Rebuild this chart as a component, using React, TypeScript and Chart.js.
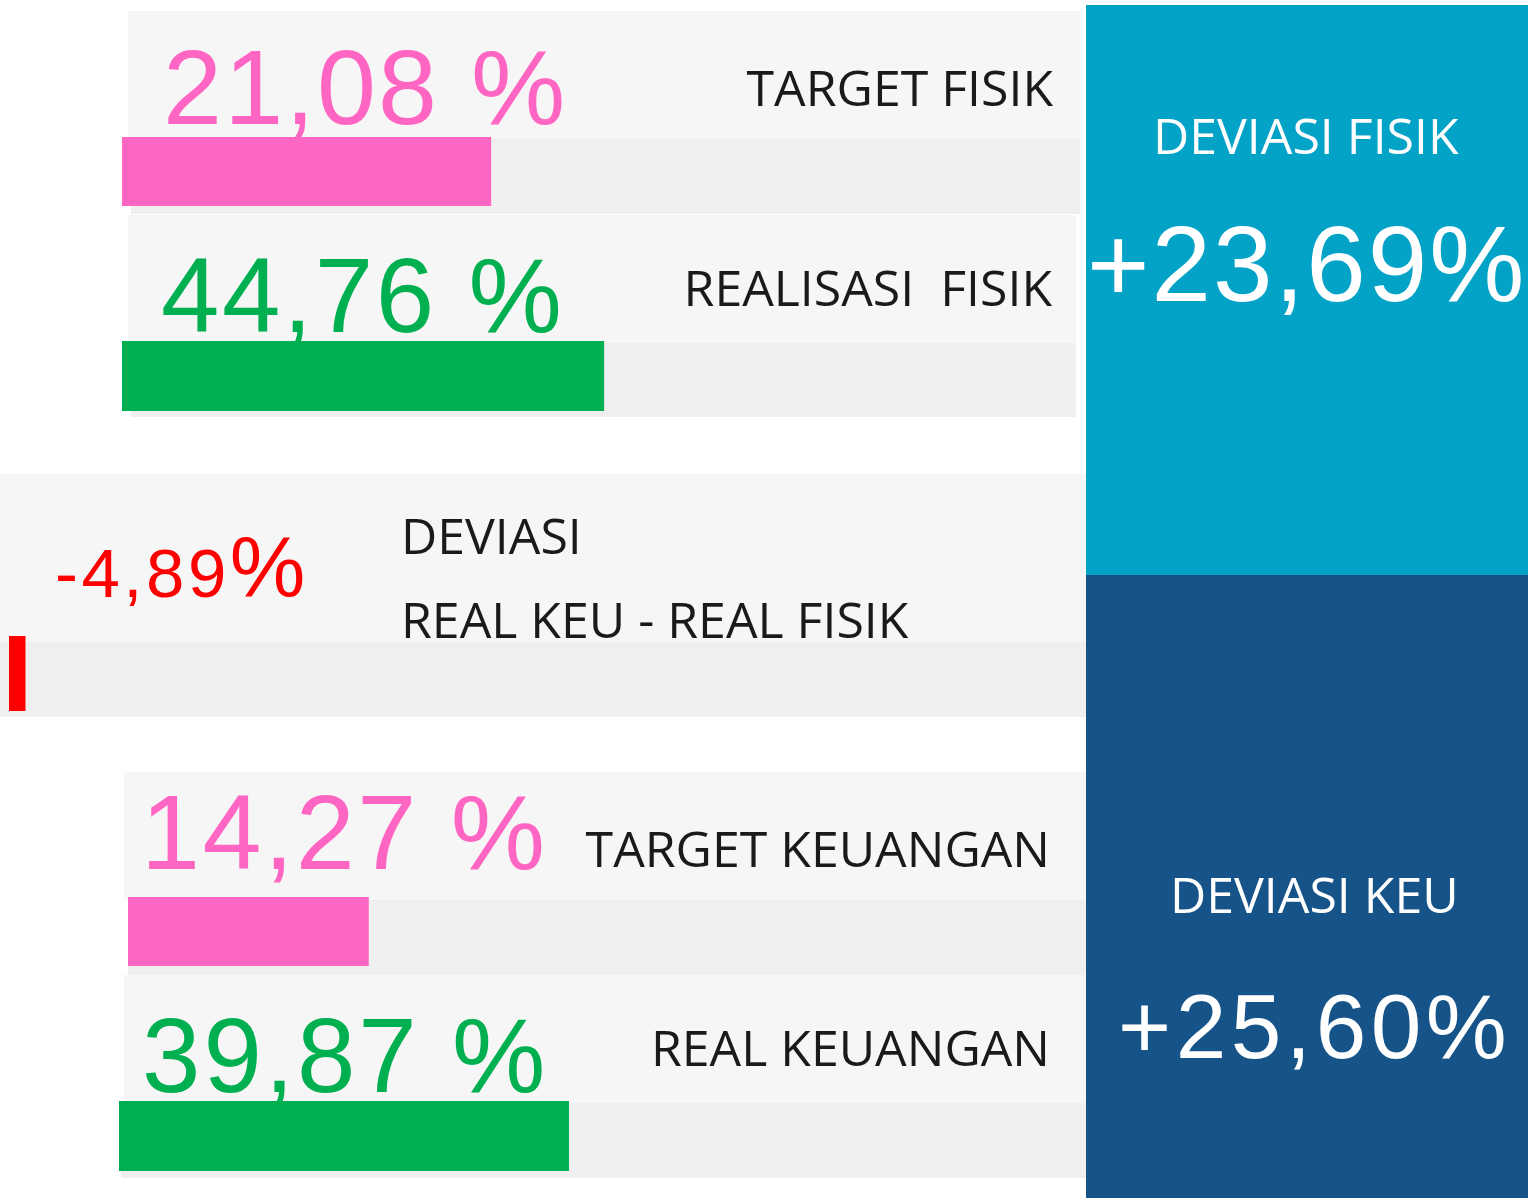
import React, { useEffect, useRef } from "react";
import { Chart, registerables } from "chart.js";

Chart.register(...registerables);

// ---- data ----
const rowLabels = ["TARGET FISIK", "REALISASI  FISIK", "DEVIASI\nREAL KEU - REAL FISIK", "TARGET KEUANGAN", "REAL KEUANGAN"];
const rowValues = [21.08, 44.76, -4.89, 14.27, 39.87];
// visible bar length, in percent of each track
const barLengths = [38.5, 50.5, 1.5, 25.1, 46.5];
const barColors = ["#ff66c4", "#00b050", "#ff0000", "#ff66c4", "#00b050"];
const deviationLabels = ["DEVIASI FISIK", "DEVIASI KEU"];
const deviationValues = [23.69, 25.6];

const fmt = (v: number) => v.toFixed(2).replace(".", ",");

const NUM_K = 0.1305; // cap top offset for Liberation Sans at line-height 1
const NUM_BASE = 0.8465; // baseline offset
const OPEN_K = 0.174;

function BarRow({ x, y, w, h, label, value, color }: any) {
  const ref = useRef<HTMLCanvasElement | null>(null);
  useEffect(() => {
    if (!ref.current) return;
    const chart = new Chart(ref.current, {
      type: "bar",
      data: {
        labels: [label],
        datasets: [
          {
            data: [value],
            backgroundColor: color,
            borderWidth: 0,
            barPercentage: 1,
            categoryPercentage: 1,
          },
        ],
      },
      options: {
        indexAxis: "y",
        responsive: false,
        animation: false,
        devicePixelRatio: 1,
        layout: { padding: 0 },
        plugins: { legend: { display: false }, tooltip: { enabled: false } },
        scales: {
          x: { min: 0, max: 100, display: false },
          y: { display: false },
        },
      },
    });
    return () => chart.destroy();
  }, [label, value, color]);
  return (
    <canvas
      ref={ref}
      width={w}
      height={h}
      style={{ position: "absolute", left: x, top: y, width: w, height: h, zIndex: 2 }}
    />
  );
}

function T({ text, font, size, color, left, right, capTop, ls = 0, z = 3 }: any) {
  const isNum = font === "Num";
  const k = isNum ? NUM_K : OPEN_K;
  const style: any = {
    position: "absolute",
    top: capTop - k * size,
    fontFamily: isNum ? "'Liberation Sans', Arial" : "'Open Sans'",
    fontSize: size,
    lineHeight: 1,
    color,
    whiteSpace: "pre",
    letterSpacing: ls,
    zIndex: z,
  };
  if (left !== undefined) style.left = left;
  if (right !== undefined) style.right = 1536 - right;
  return <div style={style}>{text}</div>;
}

function Box({ x, y, w, h, c, z = 1 }: any) {
  return <div style={{ position: "absolute", left: x, top: y, width: w, height: h, background: c, zIndex: z }} />;
}

const PANEL = "#f6f6f6";
const TRACK = "#efefef";
const INK = "#1a1a1a";
const LBL = 50;

export default function App() {
  const [l0, l1, l2, l3, l4] = rowLabels;
  const devLines = l2.split("\n");
  return (
    <div style={{ position: "absolute", left: 0, top: 0, width: 1536, height: 1200, background: "#ffffff", overflow: "hidden" }}>
      {/* panel backgrounds */}
      <Box x={128} y={11} w={952} h={128} c={PANEL} />
      <Box x={131} y={139} w={949} h={75} c={TRACK} />
      <Box x={128} y={215} w={948} h={128} c={PANEL} />
      <Box x={131} y={343} w={945} h={74} c={TRACK} />
      <Box x={0} y={474} w={1086} h={168} c={PANEL} />
      <Box x={0} y={642} w={1086} h={75} c={TRACK} />
      <Box x={124} y={772} w={979} h={128} c={PANEL} />
      <Box x={128} y={900} w={975} h={75} c={TRACK} />
      <Box x={124} y={975} w={979} h={128} c={PANEL} />
      <Box x={121} y={1103} w={982} h={75} c={TRACK} />

      {/* bars */}
      <BarRow x={122} y={137} w={958} h={69} label={l0} value={barLengths[0]} color={barColors[0]} />
      <BarRow x={122} y={341} w={954} h={70} label={l1} value={barLengths[1]} color={barColors[1]} />
      <BarRow x={9} y={636} w={1077} h={75} label={l2} value={barLengths[2]} color={barColors[2]} />
      <BarRow x={128} y={897} w={958} h={69} label={l3} value={barLengths[3]} color={barColors[3]} />
      <BarRow x={119} y={1101} w={967} h={70} label={l4} value={barLengths[4]} color={barColors[4]} />

      {/* right blocks */}
      <Box x={1086} y={5} w={442} h={570} c="#03a2c7" z={4} />
      <Box x={1086} y={575} w={442} h={623} c="#155389" z={4} />

      {/* value texts */}
      <T text={fmt(rowValues[0]) + " %"} font="Num" size={106} color={barColors[0]} left={163} capTop={48} ls={2.2} z={1} />
      <T text={l0} font="Open" size={LBL} color={INK} right={1053} capTop={71} />
      <T text={fmt(rowValues[1]) + " %"} font="Num" size={105} color={barColors[1]} left={161} capTop={257} ls={2.6} z={1} />
      <T text={l1} font="Open" size={LBL} color={INK} right={1052} capTop={271} />

      <div style={{ position: "absolute", left: 55, top: 597 - NUM_BASE * 85, fontFamily: "'Liberation Sans', Arial", fontSize: 69, lineHeight: 1, color: barColors[2], letterSpacing: 3.5, whiteSpace: "pre", zIndex: 3 }}>
        {fmt(rowValues[2])}
        <span style={{ fontSize: 85, letterSpacing: 0 }}>%</span>
      </div>
      <T text={devLines[0]} font="Open" size={LBL} color={INK} left={401} capTop={519} />
      <T text={devLines[1]} font="Open" size={LBL} color={INK} left={401} capTop={603} />

      <T text={fmt(rowValues[3]) + " %"} font="Num" size={106} color={barColors[3]} left={141} capTop={793} ls={2.5} z={1} />
      <T text={l3} font="Open" size={LBL} color={INK} right={1050} capTop={832} />
      <T text={fmt(rowValues[4]) + " %"} font="Num" size={105} color={barColors[4]} left={142} capTop={1017} ls={3} z={1} />
      <T text={l4} font="Open" size={LBL} color={INK} right={1050} capTop={1031} />

      {/* deviation block texts */}
      <T text={deviationLabels[0]} font="Open" size={LBL} color="#ffffff" left={1153} capTop={119} z={5} />
      <T text={"+" + fmt(deviationValues[0]) + "%"} font="Num" size={107} color="#ffffff" left={1087} capTop={225} ls={2} z={5} />
      <T text={deviationLabels[1]} font="Open" size={LBL} color="#ffffff" left={1170} capTop={878} z={5} />
      <T text={"+" + fmt(deviationValues[1]) + "%"} font="Num" size={91} color="#ffffff" left={1118} capTop={993} ls={4.5} z={5} />
    </div>
  );
}
